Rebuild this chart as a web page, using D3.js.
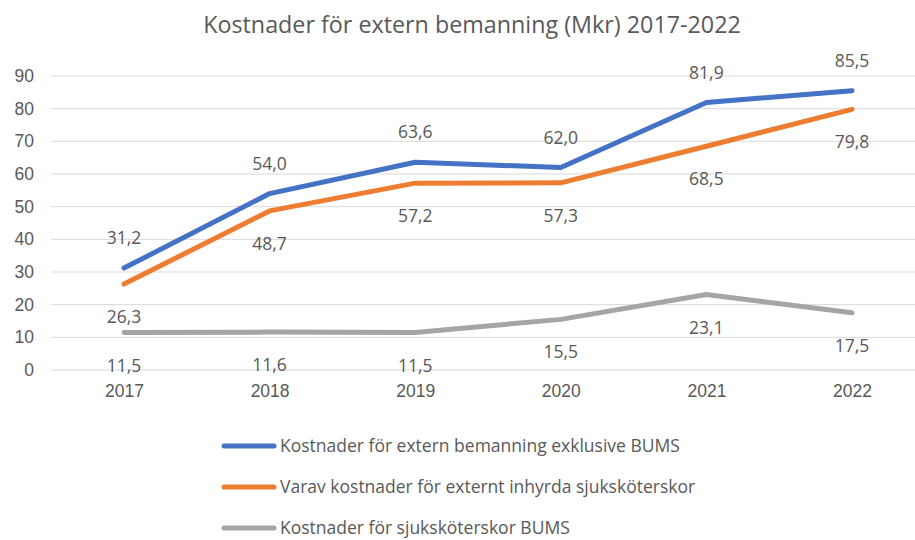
<!DOCTYPE html>
<html lang="sv">
<head>
<meta charset="UTF-8">
<title>Kostnader för extern bemanning</title>
<script src="https://d3js.org/d3.v7.min.js"></script>
<style>
  body { margin: 0; background: #fff; overflow: hidden; }
  svg { display: block; font-family: "Open Sans", "Liberation Sans", sans-serif; }
</style>
</head>
<body>
<svg id="chart" width="915" height="540"></svg>
<script>
// Data
const years = ["2017", "2018", "2019", "2020", "2021", "2022"];
const externExklBums = [31.2, 54.0, 63.6, 62.0, 81.9, 85.5];
const varavSjukskoterskor = [26.3, 48.7, 57.2, 57.3, 68.5, 79.8];
const sjukskoterskorBums = [11.5, 11.6, 11.5, 15.5, 23.1, 17.5];
const yTicks = [0, 10, 20, 30, 40, 50, 60, 70, 80, 90];

const seriesNames = [
  "Kostnader för extern bemanning exklusive BUMS",
  "Varav kostnader för externt inhyrda sjuksköterskor",
  "Kostnader för sjuksköterskor BUMS"
];

const series = [
  { name: seriesNames[0], values: externExklBums, color: "#4472C4", labelDy: -30 },
  { name: seriesNames[1], values: varavSjukskoterskor, color: "#ED7D31", labelDy: 33 },
  { name: seriesNames[2], values: sjukskoterskorBums, color: "#A5A5A5", labelDy: 33 }
];

const svg = d3.select("#chart");
const textColor = "#595959";
const fontSize = "17.5px";

const x = d3.scalePoint().domain(years).range([124, 852]);
const y = d3.scaleLinear().domain([0, 90]).range([370, 76]);

// Title
svg.append("text")
  .attr("x", 472).attr("y", 33)
  .attr("text-anchor", "middle")
  .attr("fill", textColor)
  .style("font-size", "23.3px")
  .text("Kostnader för extern bemanning (Mkr) 2017-2022");

// Gridlines
svg.append("g")
  .selectAll("line")
  .data(yTicks)
  .enter().append("line")
  .attr("x1", 51).attr("x2", 915)
  .attr("y1", d => y(d)).attr("y2", d => y(d))
  .attr("stroke", "#d9d9d9")
  .attr("stroke-width", 1);

// Y axis labels
const yAxis = d3.axisLeft(y).tickValues(yTicks).tickSize(0).tickPadding(0);
const yg = svg.append("g").attr("transform", "translate(34,0)").call(yAxis);
yg.select(".domain").remove();
yg.selectAll("text")
  .attr("fill", textColor)
  .style("font-size", fontSize)
  .attr("text-anchor", "end");

// X axis labels
const xAxis = d3.axisBottom(x).tickSize(0).tickPadding(0);
const xg = svg.append("g").attr("transform", "translate(0,385)").call(xAxis);
xg.select(".domain").remove();
xg.selectAll("text")
  .attr("fill", textColor)
  .style("font-size", fontSize);

// Lines
const line = d3.line()
  .x((d, i) => x(years[i]))
  .y(d => y(d));

svg.append("g")
  .selectAll("path")
  .data(series)
  .enter().append("path")
  .attr("d", d => line(d.values))
  .attr("fill", "none")
  .attr("stroke", d => d.color)
  .attr("stroke-width", 5)
  .attr("stroke-linecap", "round")
  .attr("stroke-linejoin", "round");

// Data labels
const fmt = v => v.toFixed(1).replace(".", ",");
series.forEach(s => {
  svg.append("g")
    .selectAll("text")
    .data(s.values)
    .enter().append("text")
    .attr("x", (d, i) => x(years[i]))
    .attr("y", d => y(d) + s.labelDy)
    .attr("dy", "0.35em")
    .attr("text-anchor", "middle")
    .attr("fill", textColor)
    .style("font-size", fontSize)
    .text(d => fmt(d));
});

// Legend (last row sits close to the bottom edge, as in the reference)
const legend = svg.append("g")
  .selectAll("g")
  .data(series)
  .enter().append("g")
  .attr("transform", (d, i) => `translate(224,${446 + i * 41})`);

legend.append("line")
  .attr("x1", 0).attr("x2", 50)
  .attr("stroke", d => d.color)
  .attr("stroke-width", 5)
  .attr("stroke-linecap", "round");

legend.append("text")
  .attr("x", 56)
  .attr("dy", "0.35em")
  .attr("fill", textColor)
  .style("font-size", fontSize)
  .text(d => d.name);
</script>
</body>
</html>
